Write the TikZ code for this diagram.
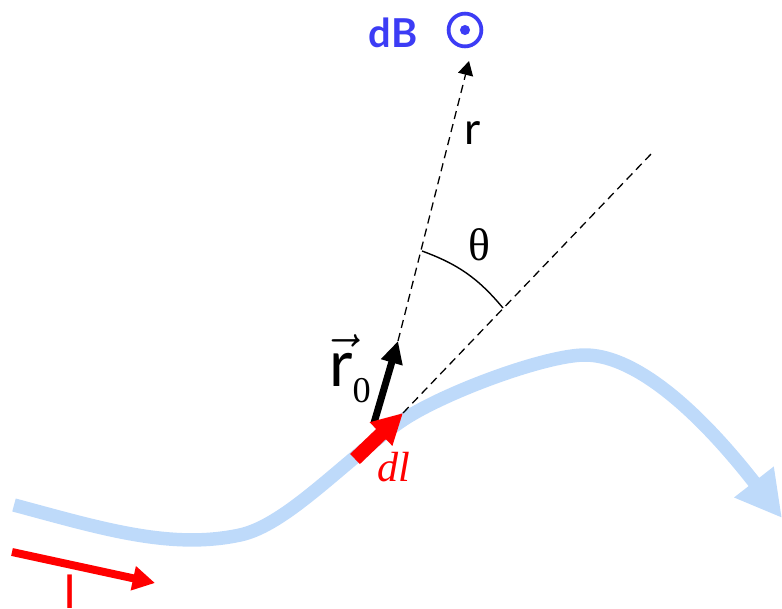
\RequirePackage{fix-cm}
\documentclass[tikz,border=0pt]{standalone}
\usepackage{fontspec}
\setsansfont{Lato}
\newfontfamily\timesfont{Liberation Serif}
\usepackage{tikz}
\usetikzlibrary{arrows.meta, positioning, calc}
\definecolor{wireblue}{RGB}{190,218,250}
\definecolor{fieldblue}{RGB}{60,60,245}
\tikzset{
  wire/.style={line width=11.5pt, wireblue, -{Triangle[length=39pt,width=40pt]}},
  current/.style={line width=6.8pt, red, -{Triangle[length=19pt,width=20pt]}},
  element/.style={line width=12pt, red, -{Triangle[length=26pt,width=26pt]}},
  position/.style={line width=6pt, black, -{Triangle[length=19pt,width=18pt]}},
  guide/.style={line width=1.1pt, dash pattern=on 7pt off 4.5pt},
  ray/.style={guide, -{Triangle[length=12pt,width=13pt]}},
  anglearc/.style={line width=1.2pt},
  tag/.style={inner sep=0pt, font=\sffamily\fontsize{38}{40}\selectfont},
  bigtag/.style={inner sep=0pt, font=\sffamily\fontsize{55}{58}\selectfont},
  fieldtag/.style={inner sep=0pt, text=fieldblue, font=\sffamily\bfseries\fontsize{34}{36}\selectfont},
  seriftag/.style={inner sep=0pt, font=\timesfont\fontsize{39}{41}\selectfont},
  odot/.style={circle, draw=fieldblue, line width=3.2pt, minimum size=28pt, inner sep=0pt}
}

\begin{document}
\begin{tikzpicture}[x=0.03cm,y=-0.03cm]
    \useasboundingbox (0,0) rectangle (782,608);
    \draw[wire] (14,505) .. controls (100,528) and (170,550) .. (240,535)
      .. controls (287,525) and (345,460) .. (400,422)
      .. controls (440,394) and (545,355) .. (585,355)
      .. controls (630,355) and (690,400) .. (782,518);
    \coordinate (dlstart) at (355,459);
    \coordinate (dltip) at (403,413);
    \coordinate (rzero) at (374,423);
    \coordinate (rzerotip) at (398,341);
    \coordinate (rtip) at (469,61);
    \coordinate (tanend) at (652,153);
    \coordinate (thetaA) at (422,251);
    \coordinate (thetaB) at (503,308);
    \coordinate (Istart) at (12,552);
    \coordinate (Itip) at (155,583);
    \draw[ray] (rzerotip) -- (rtip);
    \draw[guide] (dltip) -- (tanend);
    \draw[anglearc] (thetaA) to[bend left=15] (thetaB);
    \draw[position] (rzero) -- (rzerotip);
    \draw[element] (dlstart) -- (dltip);
    \draw[current] (Istart) -- (Itip);
    \node[fieldtag] (dB) at (393,33) {dB};
    \node[odot] (dBdir) at (465,30) {};
    \fill[fieldblue] (dBdir.center) circle (4.3pt);
    \node[tag] (rlabel) at (473,133) {r};
    \node[seriftag] (theta) at (479,245) {θ};
    \node[bigtag] (rzerolabel) at (350,369) {$\vec{\mbox{r}}$\raisebox{-14pt}{\timesfont\fontsize{31}{31}\selectfont 0}};
    \node[seriftag, text=red, font=\timesfont\itshape\fontsize{36}{38}\selectfont] (dllabel) at (394,467) {dl};
    \node[tag, text=red, anchor=north, font=\sffamily\fontsize{40}{42}\selectfont] (Ilabel) at (70,575) {I};
\end{tikzpicture}
\end{document}
